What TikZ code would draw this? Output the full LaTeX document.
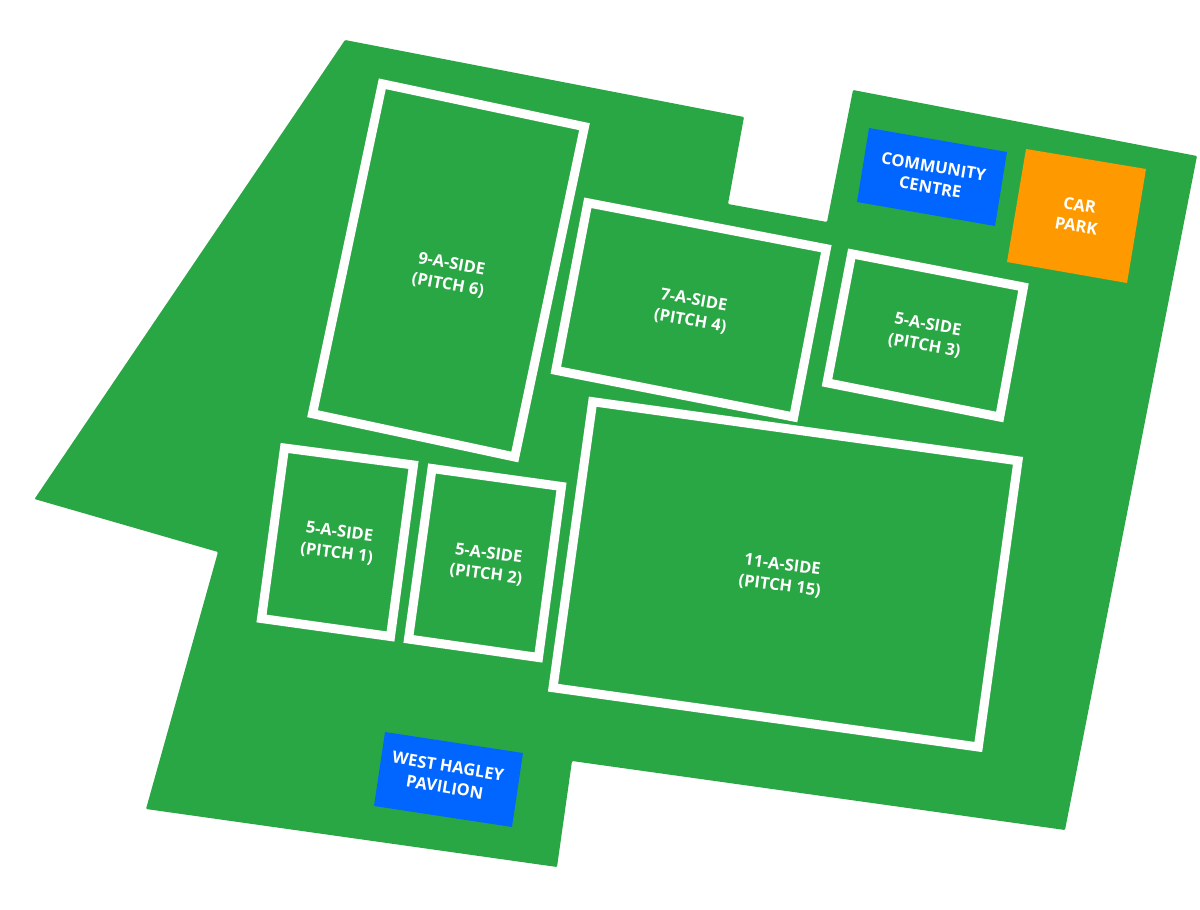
\documentclass[tikz,border=0pt]{standalone}
\usepackage{fontspec}
\setmainfont{Open Sans}
\definecolor{groundgreen}{HTML}{2AA745}
\definecolor{hallblue}{HTML}{0066FF}
\definecolor{parkorange}{HTML}{FF9900}
\begin{document}
\begin{tikzpicture}[x=1pt, y=-1pt,
    every node/.style={font=\fontsize{16.5}{21}\selectfont\bfseries, text=white, align=center, inner sep=0pt},
    pitch/.style={draw=white, line width=9pt, miter limit=10}]
    \useasboundingbox (0,0) rectangle (1200,910);
    % ground
    \fill[groundgreen, rounded corners=1pt]
        (345,40) -- (744,117) -- (728,204) -- (827,222) -- (853,90) -- (1197,156) -- (1065,830)
        -- (572,761) -- (557,867) -- (146,809) -- (218,552) -- (34.5,499) -- cycle;
    % pitches
    \draw[pitch] (382.3,83.8) -- (584.5,126.7) -- (514.8,457) -- (312.5,413.7) -- cycle;
    \draw[pitch] (587.8,202.8) -- (826.3,248.7) -- (793.7,417) -- (555.8,370.3) -- cycle;
    \draw[pitch] (851.7,253.8) -- (1023.5,287) -- (999.7,417) -- (827,382.8) -- cycle;
    \draw[pitch] (592.7,401.7) -- (1018,460.8) -- (978.3,747) -- (553,687.7) -- cycle;
    \draw[pitch] (284.5,448) -- (413.5,465) -- (390.5,636.5) -- (261.5,618.5) -- cycle;
    \draw[pitch] (432,468.5) -- (561.5,486.5) -- (538.5,657.5) -- (408.5,639) -- cycle;
    % buildings
    \fill[hallblue] (869,128) -- (1007,152) -- (995,226) -- (857,202) -- cycle;
    \fill[parkorange] (1026,149) -- (1146,169) -- (1127,283) -- (1007,262) -- cycle;
    \fill[hallblue] (385,732) -- (523,753) -- (512,827) -- (374,806) -- cycle;
    % labels
    \node[rotate=-10.5] (pitchsix) at (449.7,275) {9-A-SIDE\\(PITCH 6)};
    \node[rotate=-10] (pitchfour) at (692,311) {7-A-SIDE\\(PITCH 4)};
    \node[rotate=-10] (pitchthree) at (926,335.5) {5-A-SIDE\\(PITCH 3)};
    \node[rotate=-7.5] (pitchfifteen) at (781,575.7) {11-A-SIDE\\(PITCH 15)};
    \node[rotate=-7.5] (pitchone) at (338,543) {5-A-SIDE\\(PITCH 1)};
    \node[rotate=-7.5] (pitchtwo) at (487.3,564.3) {5-A-SIDE\\(PITCH 2)};
    \node[rotate=-9.5] (community) at (932,177) {COMMUNITY\\CENTRE};
    \node[rotate=-9.5] (carpark) at (1078,215.5) {CAR\\PARK};
    \node[rotate=-9.5] (pavilion) at (446.5,776.7) {WEST HAGLEY\\PAVILION};
\end{tikzpicture}
\end{document}
